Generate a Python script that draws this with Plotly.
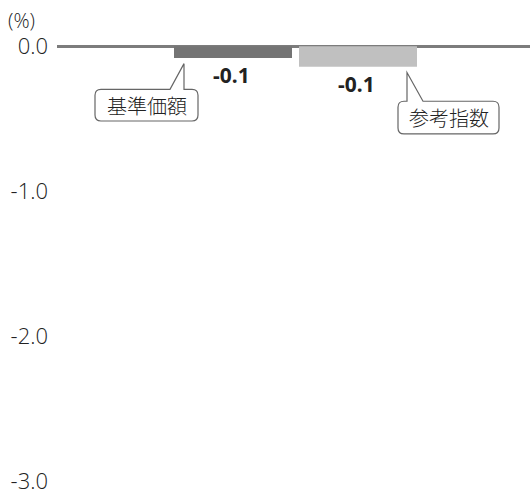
import plotly.graph_objects as go

# ---- data ----
categories = ["基準価額", "参考指数"]
values = [-0.08, -0.14]
value_labels = ["-0.1", "-0.1"]
bar_colors = ["#747474", "#c0c0c0"]
tick_vals = [0, -1, -2, -3]
tick_text = ["0.0", "-1.0", "-2.0", "-3.0"]
unit_label = "(%)"

W, H = 530, 495
ML, MR, MT, MB = 57, 0, 30, 0
PW, PH = W - ML - MR, H - MT - MB


def px(x):
    return (x - ML) / PW


def py(y):
    return (H - MB - y) / PH


def path_px(pts):
    out = []
    for cmd, *xy in pts:
        if cmd == "Z":
            out.append("Z")
        elif cmd == "Q":
            out.append(f"Q {px(xy[0])},{py(xy[1])} {px(xy[2])},{py(xy[3])}")
        else:
            out.append(f"{cmd} {px(xy[0])},{py(xy[1])}")
    return " ".join(out)


def bubble(l, r, t, b, pointer, rad=6):
    (x1, y1), (xt, yt), (x2, y2) = pointer
    return path_px([
        ("M", l + rad, t), ("L", x1, t), ("L", xt, yt), ("L", x2, t),
        ("L", r - rad, t), ("Q", r, t, r, t + rad), ("L", r, b - rad),
        ("Q", r, b, r - rad, b), ("L", l + rad, b), ("Q", l, b, l, b - rad),
        ("L", l, t + rad), ("Q", l, t, l + rad, t), ("Z",)
    ])


CJK = "Noto Sans CJK JP"
LAT = "Open Sans, Noto Sans, Noto Sans CJK JP"
xs = list(range(len(categories)))

fig = go.Figure()
fig.add_trace(go.Bar(
    x=xs, y=values, width=0.944,
    marker=dict(color=bar_colors, line=dict(width=0)),
    hoverinfo="skip", showlegend=False,
))

annotations = []
for i, (v, t) in enumerate(zip(values, value_labels)):
    annotations.append(dict(
        x=i, y=v, xref="x", yref="y", text=f"<b>{t}</b>", showarrow=False,
        yanchor="top", xanchor="center", yshift=-1, xshift=-2,
        font=dict(family="Noto Sans, Noto Sans CJK JP", size=21, color="#222222"),
    ))

annotations.append(dict(
    x=px(6), y=py(20), xref="paper", yref="paper", text=unit_label,
    showarrow=False, xanchor="left", yanchor="middle",
    font=dict(family=LAT, size=20, color="#222222", weight=300),
))

callouts = [
    dict(text=categories[0], box=(95, 198, 90, 122), pointer=[(170, 90), (184, 64), (184, 90)]),
    dict(text=categories[1], box=(398, 499, 102, 135), pointer=[(407, 102), (407, 73), (423, 102)]),
]
shapes = []
for c in callouts:
    l, r, t, b = c["box"]
    shapes.append(dict(
        type="path", xref="paper", yref="paper", path=bubble(l, r, t, b, c["pointer"]),
        fillcolor="white", line=dict(color="#666666", width=1.2), layer="above",
    ))
    annotations.append(dict(
        x=px((l + r) / 2), y=py((t + b) / 2), xref="paper", yref="paper",
        text=c["text"], showarrow=False, xanchor="center", yanchor="middle",
        font=dict(family=CJK, size=20, color="#222222", weight=300),
    ))

fig.update_layout(
    width=W, height=H,
    margin=dict(l=ML, r=MR, t=MT, b=MB, pad=0),
    paper_bgcolor="white", plot_bgcolor="white",
    showlegend=False,
    xaxis=dict(range=[(ML - 233) / 125, (W - 233) / 125], visible=False, fixedrange=True),
    yaxis=dict(
        range=[-(H - 46.5) / 146.7, (46.5 - MT) / 146.7],
        tickvals=tick_vals, ticktext=tick_text, showgrid=False,
        zeroline=True, zerolinecolor="#7c7c7c", zerolinewidth=3,
        showline=False, ticks="", ticklabelstandoff=8, layer="above traces",
        ticklabeloverflow="allow",
        tickfont=dict(family=LAT, size=22, color="#222222", weight=300),
        fixedrange=True,
    ),
    annotations=annotations, shapes=shapes,
)

fig.write_html(
    "out.html",
    config={"displayModeBar": False, "staticPlot": True},
    post_script="document.body.style.margin='0';document.body.style.overflow='hidden';",
)
